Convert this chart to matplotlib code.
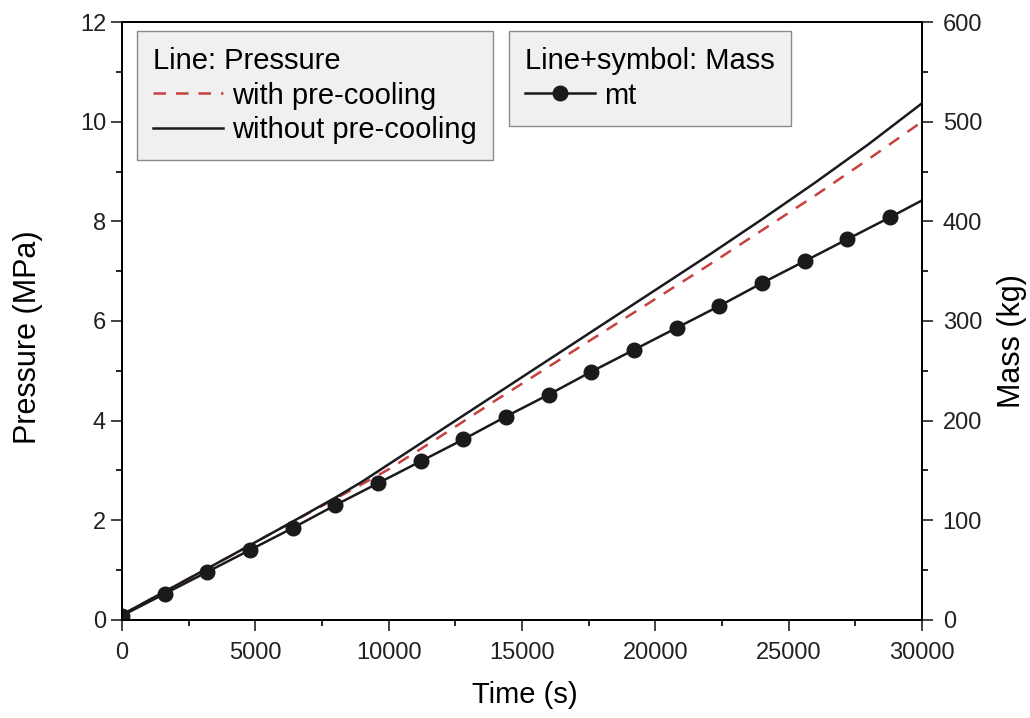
import matplotlib.pyplot as plt
from matplotlib.ticker import MultipleLocator

plt.rcParams["font.family"] = ["Liberation Sans", "DejaVu Sans"]
plt.rcParams["font.size"] = 17

# pressure curves (MPa)
t_p = [0, 2000, 4000, 6000, 8000, 9000, 10000, 12000, 14000, 16000, 18000,
       20000, 22000, 24000, 26000, 28000, 30000]
p_without = [0.10, 0.68, 1.26, 1.85, 2.45, 2.77, 3.12, 3.82, 4.52, 5.22, 5.92,
             6.62, 7.32, 8.04, 8.78, 9.55, 10.37]
p_with = [0.10, 0.68, 1.26, 1.85, 2.43, 2.72, 3.02, 3.70, 4.40, 5.08, 5.76,
          6.44, 7.12, 7.82, 8.52, 9.25, 10.00]

# mass (kg)
t_m = [0, 1600, 3200, 4800, 6400, 8000, 9600, 11200, 12800, 14400, 16000,
       17600, 19200, 20800, 22400, 24000, 25600, 27200, 28800, 30000]
mass = [4, 26, 48, 70, 92, 115, 137, 159, 181, 204, 226,
        249, 271, 293, 315, 338, 360, 382, 404, 421]
mark_every = list(range(19))

fig, ax = plt.subplots(figsize=(10.3, 7.18), dpi=100)
fig.subplots_adjust(left=0.1185, right=0.895, top=0.969, bottom=0.137)
ax2 = ax.twinx()

l_with, = ax.plot(t_p, p_with, color="#c8413d", lw=1.8, ls=(0, (5, 4)))
l_without, = ax.plot(t_p, p_without, color="#1a1a22", lw=1.8)
l_mass, = ax2.plot(t_m, mass, color="#1a1a1a", lw=1.8, marker="o",
                   markersize=10.5, markevery=mark_every)

ax.set_xlim(0, 30000)
ax.set_ylim(0, 12)
ax2.set_ylim(0, 600)
ax.xaxis.set_major_locator(MultipleLocator(5000))
ax.xaxis.set_minor_locator(MultipleLocator(2500))
ax.yaxis.set_major_locator(MultipleLocator(2))
ax.yaxis.set_minor_locator(MultipleLocator(1))
ax2.yaxis.set_major_locator(MultipleLocator(100))
ax2.yaxis.set_minor_locator(MultipleLocator(50))

for a in (ax, ax2):
    a.tick_params(which="major", direction="out", length=8, width=1.2,
                  labelsize=17, colors="#222222")
    a.tick_params(which="minor", direction="out", length=4.5, width=1.2)
    for s in a.spines.values():
        s.set_linewidth(1.3)
ax.tick_params(axis="x", pad=8)
ax2.tick_params(axis="y", pad=7)

ax.set_xlabel("Time (s)", fontsize=21)
ax.set_ylabel("Pressure (MPa)", fontsize=22)
ax2.set_ylabel("Mass (kg)", fontsize=22)
ax.xaxis.set_label_coords(0.503, -0.102)
ax.yaxis.set_label_coords(-0.099, 0.472)
ax2.yaxis.set_label_coords(1.094, 0.466)

common = dict(loc="upper left", alignment="left", fontsize=21,
              title_fontsize=21, handlelength=2.4, handletextpad=0.3,
              labelspacing=0.22, borderpad=0.55, borderaxespad=0,
              fancybox=False, edgecolor="#8a8a8a", facecolor="#f0f0f0",
              framealpha=1)
leg1 = ax2.legend([l_with, l_without], ["with pre-cooling", "without pre-cooling"],
                  title="Line: Pressure", bbox_to_anchor=(0.019, 0.985), **common)
leg1.get_frame().set_linewidth(1.0)
ax2.add_artist(leg1)
leg2 = ax2.legend([l_mass], ["mt"], title="Line+symbol: Mass",
                  bbox_to_anchor=(0.484, 0.985), **common)
leg2.get_frame().set_linewidth(1.0)

fig.savefig("out.png", dpi=100)
